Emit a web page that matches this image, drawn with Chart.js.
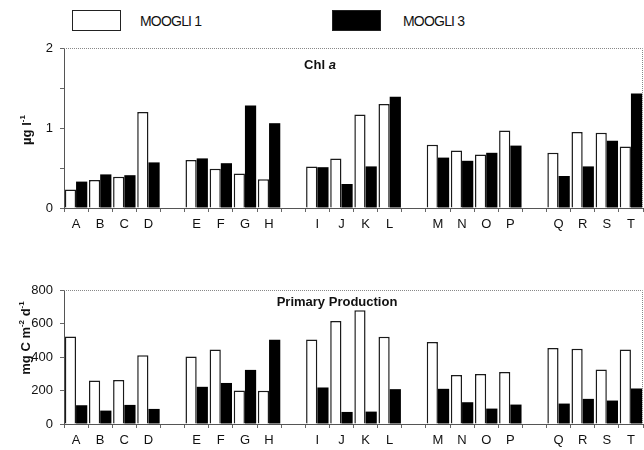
<!DOCTYPE html>
<html>
<head>
<meta charset="utf-8">
<script src="https://cdn.jsdelivr.net/npm/chart.js@4.4.0/dist/chart.umd.min.js"></script>
<style>
  html, body { margin:0; padding:0; background:#fff; }
  body { width:644px; height:450px; position:relative; overflow:hidden; font-family:"Liberation Sans", Arial, sans-serif; }
  canvas { position:absolute; left:0; }
  .lbox { position:absolute; top:10px; width:49px; height:21px; box-sizing:border-box; border:1px solid #222; }
  .ltxt { position:absolute; top:13px; font-size:14px; color:#111; letter-spacing:-0.8px; }
</style>
</head>
<body>
<div class="lbox" style="left:72px;background:#fff;"></div>
<div class="ltxt" style="left:140px;">MOOGLI 1</div>
<div class="lbox" style="left:332px;background:#000;"></div>
<div class="ltxt" style="left:403px;">MOOGLI 3</div>
<canvas id="c1" width="644" height="240" style="top:0px"></canvas>
<canvas id="c2" width="644" height="210" style="top:240px"></canvas>
<script>
const categories = ['A','B','C','D','E','F','G','H','I','J','K','L','M','N','O','P','Q','R','S','T'];
const chlMoogli1 = [0.23,0.35,0.39,1.20, 0.60,0.49,0.43,0.36, 0.52,0.62,1.17,1.30, 0.79,0.72,0.67,0.97, 0.69,0.95,0.94,0.77];
const chlMoogli3 = [0.33,0.42,0.41,0.57, 0.62,0.56,1.28,1.06, 0.51,0.30,0.52,1.39, 0.63,0.59,0.69,0.78, 0.40,0.52,0.84,1.43];
const ppMoogli1 = [523,259,263,411, 403,445,200,198, 505,615,679,521, 489,293,299,311, 453,449,325,445];
const ppMoogli3 = [112,80,114,90, 222,245,323,503, 218,72,74,208, 210,130,92,116, 122,150,140,212];
const chlTicks = [0,1,2];
const ppTicks = [0,200,400,600,800];

// Build slot table: groups of 4 separated by an empty slot
function withGaps(arr, filler) {
  const out = [];
  arr.forEach((v, i) => { if (i > 0 && i % 4 === 0) out.push(filler); out.push(v); });
  return out;
}
const slotLabels = withGaps(categories, '');

const FONT = '"Liberation Sans", Arial, sans-serif';

function drawParts(ctx, parts, cx, cy, rotate, size) {
  ctx.save();
  ctx.translate(cx, cy);
  if (rotate) ctx.rotate(-Math.PI / 2);
  ctx.fillStyle = '#111';
  ctx.textBaseline = 'alphabetic';
  let total = 0;
  const fontOf = p => (p.italic ? 'italic ' : '') + 'bold ' + (p.sup ? Math.round(size * 0.65) : size) + 'px ' + FONT;
  const widths = parts.map(p => { ctx.font = fontOf(p); const w = ctx.measureText(p.t).width; total += w; return w; });
  let x = -total / 2;
  parts.forEach((p, i) => {
    ctx.font = fontOf(p);
    ctx.fillText(p.t, x, p.sup ? size * 0.35 - size * 0.45 : size * 0.35);
    x += widths[i];
  });
  ctx.restore();
}

function decorPlugin(title, ytitle) {
  return {
    id: 'decor',
    afterDatasetsDraw(chart) {
      const ctx = chart.ctx, a = chart.chartArea;
      ctx.save();
      ctx.strokeStyle = '#888';
      ctx.lineWidth = 1;
      ctx.setLineDash([1, 1]);
      ctx.beginPath();
      ctx.moveTo(a.left, a.top + 0.5);
      ctx.lineTo(a.right - 0.5, a.top + 0.5);
      ctx.lineTo(a.right - 0.5, a.bottom);
      ctx.stroke();
      ctx.restore();
      drawParts(ctx, title.parts, title.x, title.y, false, 13);
      drawParts(ctx, ytitle.parts, ytitle.x, ytitle.y, true, 13);
    }
  };
}

function makeChart(id, d1, d3, ymax, step, shown, padTop, xHeight, title, ytitle) {
  return new Chart(document.getElementById(id), {
    type: 'bar',
    data: {
      labels: slotLabels,
      datasets: [
        { label: 'MOOGLI 1', data: withGaps(d1, null), backgroundColor: '#fff', borderColor: '#1a1a1a', borderWidth: 1.5, categoryPercentage: 0.93, barPercentage: 1 },
        { label: 'MOOGLI 3', data: withGaps(d3, null), backgroundColor: '#000', borderColor: '#000', borderWidth: 0, categoryPercentage: 0.93, barPercentage: 1 }
      ]
    },
    options: {
      responsive: false,
      animation: false,
      devicePixelRatio: 1,
      layout: { padding: { top: padTop, right: 1, left: 0, bottom: 0 } },
      plugins: { legend: { display: false }, tooltip: { enabled: false } },
      scales: {
        x: {
          afterFit: s => { s.height = xHeight; },
          grid: { offset: true, drawOnChartArea: false, drawTicks: true, tickLength: 4, color: '#666' },
          border: { display: true, color: '#555', width: 1 },
          ticks: { autoSkip: false, maxRotation: 0, minRotation: 0, padding: 5, color: '#111', font: { family: FONT, size: 13 } }
        },
        y: {
          min: 0, max: ymax,
          afterFit: s => { s.width = 64; },
          grid: { drawOnChartArea: false, drawTicks: true, tickLength: 4, color: '#666' },
          border: { display: true, color: '#555', width: 1 },
          ticks: { stepSize: step, padding: 7, color: '#111', font: { family: FONT, size: 13 },
            callback: v => shown.includes(v) ? String(v) : '' }
        }
      }
    },
    plugins: [decorPlugin(title, ytitle)]
  });
}

makeChart('c1', chlMoogli1, chlMoogli3, 2, 0.5, chlTicks, 48, 32,
  { parts: [{ t: 'Chl ' }, { t: 'a', italic: true }], x: 320, y: 64 },
  { parts: [{ t: 'µg l' }, { t: '-1', sup: true }], x: 26, y: 130 });

makeChart('c2', ppMoogli1, ppMoogli3, 800, 200, ppTicks, 50, 26,
  { parts: [{ t: 'Primary Production' }], x: 337, y: 61 },
  { parts: [{ t: 'mg C m' }, { t: '-2', sup: true }, { t: ' d' }, { t: '-1', sup: true }], x: 25, y: 98 });
</script>
</body>
</html>
